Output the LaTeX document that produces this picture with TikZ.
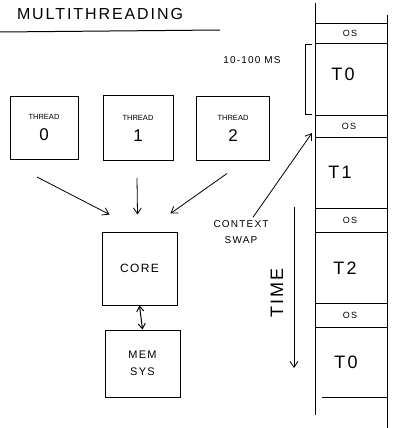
\documentclass[tikz,border=0pt]{standalone}
\usepackage{fontspec}
\setmainfont{Liberation Sans}
\newfontfamily\spaced[LetterSpace=12]{Liberation Sans}
\usetikzlibrary{arrows.meta,calc}
\begin{document}
\begin{tikzpicture}[x=1pt,y=-1pt,
  ink/.style={line width=1pt,black},
  box/.style={ink,draw,inner sep=0pt,align=center},
  arr/.style={ink,line width=0.8pt,-{Straight Barb[length=6pt,width=8pt]}},
  darr/.style={ink,{Straight Barb[length=5pt,width=7pt]}-{Straight Barb[length=5pt,width=7pt]}},
  lbl/.style={inner sep=0pt,align=center}]
\useasboundingbox (0,0) rectangle (393,428);
% title
\node[lbl,font=\spaced\fontsize{16}{17}\selectfont] (title) at (100,14) {MULTITHREADING};
\draw[ink] (0,32) -- (220,30);
% threads
\node[box,minimum width=68pt,minimum height=63pt] (t0) at (44,128)
  {{\fontsize{7.5}{8}\selectfont THREAD}\\[9pt]{\fontsize{17}{17}\selectfont 0}};
\node[box,minimum width=70pt,minimum height=65pt] (t1) at (138,128)
  {{\fontsize{7.5}{8}\selectfont THREAD}\\[9pt]{\fontsize{17}{17}\selectfont 1}};
\node[box,minimum width=73pt,minimum height=64pt] (t2) at (233,128)
  {{\fontsize{7.5}{8}\selectfont THREAD}\\[9pt]{\fontsize{17}{17}\selectfont 2}};
% core and mem
\node[box,minimum width=75pt,minimum height=73pt,font=\spaced\fontsize{12}{13}\selectfont] (core) at (139.5,268.5) {CORE};
\node[box,minimum width=75pt,minimum height=67pt,font=\spaced\fontsize{11}{17}\selectfont] (mem) at (142.5,363.5) {MEM\\SYS};
% arrows to core
\draw[arr] ($(t0.south)+(-7,17)$) -- ($(core.north west)+(8,-17)$);
\draw[arr] ($(t1.south)+(-1,17)$) -- ($(core.north)+(-2,-17)$);
\draw[arr] ($(t2.south)+(-6,13)$) -- ($(core.north east)+(-7,-18)$);
\draw[darr] (core.south) -- (mem.north);
% timeline
\draw[ink] (315,3) -- (315,415);
\draw[ink] (387,15) -- (387,428);
\foreach \yy in {23,43,115,137,208,232,303,327}
  \draw[ink,line width=0.8pt] (315,\yy) -- (387,\yy);
\draw[ink,line width=0.8pt] (322,397) -- (387,397);
\node[lbl,font=\spaced\fontsize{9}{10}\selectfont] (os1) at (350,33) {OS};
\node[lbl,font=\spaced\fontsize{18}{18}\selectfont] (s0) at (343,74) {T0};
\node[lbl,font=\spaced\fontsize{9}{10}\selectfont] (os2) at (349,126) {OS};
\node[lbl,font=\spaced\fontsize{18}{18}\selectfont] (s1) at (340,172) {T1};
\node[lbl,font=\spaced\fontsize{9}{10}\selectfont] (os3) at (350,220) {OS};
\node[lbl,font=\spaced\fontsize{18}{18}\selectfont] (s2) at (345,268) {T2};
\node[lbl,font=\spaced\fontsize{9}{10}\selectfont] (os4) at (350,315) {OS};
\node[lbl,font=\spaced\fontsize{18}{18}\selectfont] (s3) at (346,362) {T0};
% bracket
\draw[ink] (312,45) -- (305,45) -- (305,114) -- (312,114);
\node[lbl,font=\spaced\fontsize{10}{11}\selectfont] (dur) at (252,60) {10-100 MS};
% context swap
\node[lbl,font=\spaced\fontsize{10}{16}\selectfont] (cs) at (241,232) {CONTEXT\\SWAP};
\coordinate (csend) at (312,133);
\draw[arr] ($(cs.north)+(12,-3)$) -- (csend);
% time
\coordinate (tstart) at (294,207);
\coordinate (tend) at (294,368);
\draw[arr] (tstart) -- (tend);
\node[lbl,rotate=90,font=\spaced\fontsize{18}{18}\selectfont] (time) at (277,293) {TIME};
\end{tikzpicture}
\end{document}
